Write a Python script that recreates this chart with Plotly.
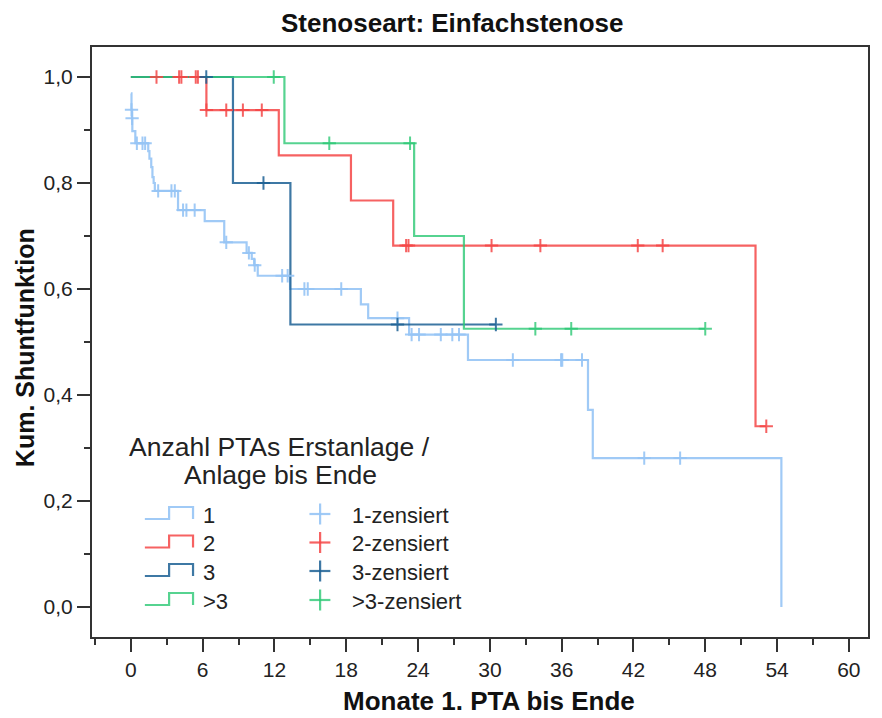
import plotly.graph_objects as go

# Kaplan-Meier curves: Shuntfunktion by number of PTAs (Stenoseart: Einfachstenose)
group_names = ["1", "2", "3", ">3"]
group_colors = ["rgba(150,196,245,0.9)", "rgba(244,70,70,0.85)",
                "rgba(28,96,148,0.85)", "rgba(44,200,116,0.8)"]

# step curves: time (months) of each step and survival after it, plus follow-up end
g1_times = [0.0, 0.05, 0.1, 0.12, 0.37, 1.45, 1.55, 1.7, 1.8, 1.9, 2.0, 3.94, 6.17,
            7.8, 9.67, 10.1, 10.3, 10.6, 13.3, 19.22, 19.83, 23.25, 28.17, 38.2,
            38.6, 54.36]
g1_surv = [0.969, 0.938, 0.922, 0.898, 0.875, 0.86, 0.846, 0.83, 0.811, 0.8, 0.785,
           0.749, 0.728, 0.688, 0.668, 0.657, 0.645, 0.625, 0.600, 0.571, 0.545,
           0.514, 0.466, 0.372, 0.281, 0.0]
g1_end = 54.36
g1_cens_t = [0.05, 0.1, 0.5, 0.97, 1.19, 2.28, 3.39, 3.67, 4.36, 4.64, 5.33, 7.97,
             9.86, 10.35, 12.64, 13.1, 14.5, 14.78, 17.58, 22.28, 23.46, 24.08,
             25.9, 26.86, 27.42, 31.92, 35.95, 36.05, 37.7, 42.9, 45.9]
g1_cens_s = [0.938, 0.922, 0.875, 0.875, 0.875, 0.785, 0.785, 0.785, 0.749, 0.749,
             0.749, 0.688, 0.668, 0.645, 0.625, 0.625, 0.600, 0.600, 0.600, 0.545,
             0.514, 0.514, 0.514, 0.514, 0.514, 0.466, 0.466, 0.466, 0.466, 0.281,
             0.281]

g2_times = [0.0, 6.31, 12.36, 18.39, 21.92, 52.2]
g2_surv = [1.0, 0.9375, 0.852, 0.767, 0.682, 0.341]
g2_end = 53.1
g2_cens_t = [2.14, 4.03, 4.22, 5.42, 5.6, 6.31, 7.97, 9.36, 10.94, 23.0, 23.2,
             30.14, 34.22, 42.36, 44.44, 53.1]
g2_cens_s = [1.0, 1.0, 1.0, 1.0, 1.0, 0.9375, 0.9375, 0.9375, 0.9375, 0.682, 0.682,
             0.682, 0.682, 0.682, 0.682, 0.341]

g3_times = [0.0, 8.53, 13.33]
g3_surv = [1.0, 0.8, 0.533]
g3_end = 30.5
g3_cens_t = [6.3, 11.08, 22.28, 30.5]
g3_cens_s = [1.0, 0.8, 0.533, 0.533]

g4_times = [0.0, 12.83, 23.67, 27.83]
g4_surv = [1.0, 0.875, 0.70, 0.525]
g4_end = 48.0
g4_cens_t = [11.94, 16.58, 23.33, 33.8, 36.8, 48.0]
g4_cens_s = [1.0, 0.875, 0.875, 0.525, 0.525, 0.525]

x_tickvals = [0, 6, 12, 18, 24, 30, 36, 42, 48, 54, 60]
y_tickvals = [0.0, 0.2, 0.4, 0.6, 0.8, 1.0]
y_ticktext = ["0,0", "0,2", "0,4", "0,6", "0,8", "1,0"]

groups = [
    (g1_times, g1_surv, g1_end, g1_cens_t, g1_cens_s),
    (g2_times, g2_surv, g2_end, g2_cens_t, g2_cens_s),
    (g3_times, g3_surv, g3_end, g3_cens_t, g3_cens_s),
    (g4_times, g4_surv, g4_end, g4_cens_t, g4_cens_s),
]

FONT = "Arial, Liberation Sans, sans-serif"
W, H = 882, 718
ML, MR, MT, MB = 92, 12, 47, 81
PW, PH = W - ML - MR, H - MT - MB

fig = go.Figure()
for name, color, (t, s, end, ct, cs) in zip(group_names, group_colors, groups):
    fig.add_trace(go.Scatter(
        x=t + [end], y=s + [s[-1]], mode="lines", name=name,
        line=dict(shape="hv", color=color, width=2.2), showlegend=False))
for name, color, (t, s, end, ct, cs) in zip(group_names, group_colors, groups):
    fig.add_trace(go.Scatter(
        x=ct, y=cs, mode="markers", name=name + "-zensiert",
        marker=dict(symbol="cross-thin", size=9.5, color=color,
                    line=dict(color=color, width=2)),
        showlegend=False))


def px(x):
    return (x - ML) / PW


def py(y):
    return (H - MB - y) / PH


shapes = []
annotations = []

# legend block drawn inside the plot area
annotations.append(dict(text="Anzahl PTAs Erstanlage /", x=px(280), y=py(447),
                        xref="paper", yref="paper", showarrow=False,
                        xanchor="center", yanchor="middle",
                        font=dict(family=FONT, size=26.5, color="#222")))
annotations.append(dict(text="Anlage bis Ende", x=px(281), y=py(475),
                        xref="paper", yref="paper", showarrow=False,
                        xanchor="center", yanchor="middle",
                        font=dict(family=FONT, size=26.5, color="#222")))
row_centers = [514, 542.5, 571, 600]
for name, color, c in zip(group_names, group_colors, row_centers):
    path = "M {} {} L {} {} L {} {} L {} {} L {} {}".format(
        px(145), py(c + 5), px(169.3), py(c + 5), px(169.3), py(c - 7),
        px(193.3), py(c - 7), px(193.3), py(c + 5))
    shapes.append(dict(type="path", path=path, xref="paper", yref="paper",
                       line=dict(color=color, width=2.2)))
    annotations.append(dict(text=name, x=px(201), y=py(c + 1), xref="paper",
                            yref="paper", showarrow=False, xanchor="left",
                            yanchor="middle",
                            font=dict(family=FONT, size=22, color="#222")))
    shapes.append(dict(type="line", x0=px(310), x1=px(331), y0=py(c), y1=py(c),
                       xref="paper", yref="paper", line=dict(color=color, width=2.2)))
    shapes.append(dict(type="line", x0=px(320.7), x1=px(320.7), y0=py(c - 10.5),
                       y1=py(c + 10.5), xref="paper", yref="paper",
                       line=dict(color=color, width=2.2)))
    annotations.append(dict(text=name + "-zensiert", x=px(351), y=py(c + 1),
                            xref="paper", yref="paper", showarrow=False,
                            xanchor="left", yanchor="middle",
                            font=dict(family=FONT, size=22, color="#222")))

# titles
annotations.append(dict(text="<b>Stenoseart: Einfachstenose</b>", x=px(453), y=py(23),
                        xref="paper", yref="paper", showarrow=False,
                        xanchor="center", yanchor="middle",
                        font=dict(family=FONT, size=26, color="#111")))
annotations.append(dict(text="<b>Monate 1. PTA bis Ende</b>", x=px(490), y=py(701),
                        xref="paper", yref="paper", showarrow=False,
                        xanchor="center", yanchor="middle",
                        font=dict(family=FONT, size=26, color="#111")))
annotations.append(dict(text="<b>Kum. Shuntfunktion</b>", x=px(25), y=py(348),
                        xref="paper", yref="paper", showarrow=False, textangle=-90,
                        xanchor="center", yanchor="middle",
                        font=dict(family=FONT, size=25, color="#111")))

axis_common = dict(showgrid=False, zeroline=False, showline=True, mirror=True,
                   linecolor="#333", linewidth=2, ticks="outside", ticklen=13,
                   tickwidth=2, tickcolor="#333",
                   tickfont=dict(family=FONT, size=21, color="#222"))

fig.update_layout(
    width=W, height=H,
    margin=dict(l=ML, r=MR, t=MT, b=MB, pad=0),
    paper_bgcolor="white", plot_bgcolor="white",
    showlegend=False,
    shapes=shapes, annotations=annotations,
    xaxis=dict(range=[-3.25, 61.6], tickvals=x_tickvals,
               minor=dict(dtick=3, tick0=0, ticks="outside", ticklen=6,
                          tickwidth=2, tickcolor="#333", showgrid=False),
               **axis_common),
    yaxis=dict(range=[-0.0566, 1.0566], tickvals=y_tickvals, ticktext=y_ticktext,
               minor=dict(dtick=0.1, tick0=0, ticks="outside", ticklen=6,
                          tickwidth=2, tickcolor="#333", showgrid=False),
               **axis_common),
)

fig.write_html("out.html")
